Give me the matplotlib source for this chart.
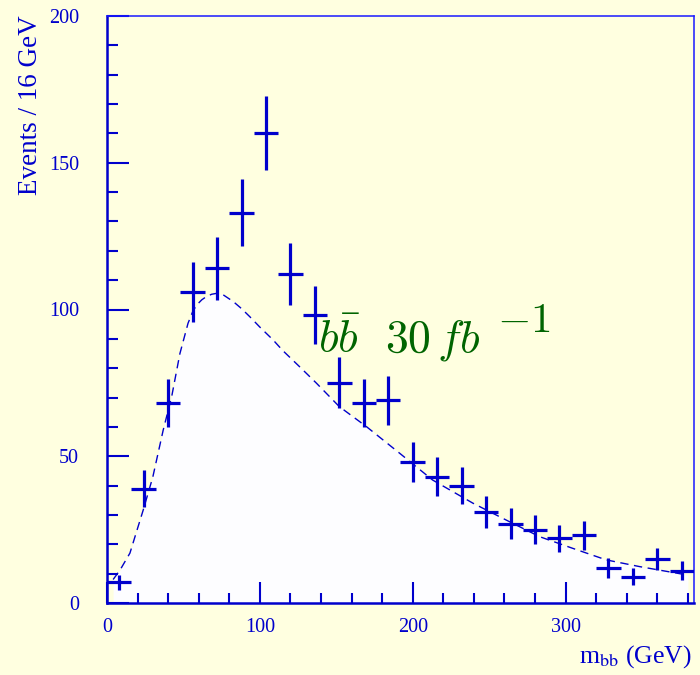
import numpy as np
import matplotlib
matplotlib.use("Agg")
import matplotlib.pyplot as plt
from matplotlib.ticker import MultipleLocator

plt.rcParams['font.family'] = ['Liberation Serif', 'DejaVu Serif']
plt.rcParams['mathtext.fontset'] = 'cm'

# data points (bin centres, 16 GeV bins)
bin_centres = [8, 24, 40, 56, 72, 88, 104, 120, 136, 152, 168, 184,
               200, 216, 232, 248, 264, 280, 296, 312, 328, 344, 360, 376]
events = [7, 39, 68, 106, 114, 133, 160, 112, 98, 75, 68, 69,
          48, 43, 40, 31, 27, 25, 22, 23, 12, 9, 15, 11]
event_errors = [2.6, 6.2, 8.2, 10.3, 10.7, 11.5, 12.6, 10.6, 9.9, 8.7, 8.2, 8.3,
                6.9, 6.6, 6.3, 5.6, 5.2, 5.0, 4.7, 4.8, 3.5, 3.0, 3.9, 3.3]
half_bin = 8

# background expectation curve
curve_x = [4, 8.5, 15, 23.7, 30, 36.8, 42.3, 47.7, 53, 56, 58.6, 62, 65, 68.5, 71.7,
           76, 82.6, 88, 93.5, 100, 108.7, 115, 126, 137, 152, 169.7, 191.5, 213,
           239.4, 261, 283, 304.8, 326.5, 348.4, 380]
curve_y = [8, 11.2, 17, 31.7, 43, 59, 70.3, 85, 95.3, 99.2, 101.5, 103.3, 104.4, 105.2, 105.5,
           105, 102.7, 100.3, 97.5, 94, 89.6, 86, 80.5, 74.9, 66.9, 60.1, 51, 41.9,
           34, 28.3, 22.6, 18.6, 14.7, 12.4, 9.5]

bg = '#ffffe0'
blue = '#0000cc'
green = '#006400'

W, H = 700, 675
fig = plt.figure(figsize=(7, 6.75), dpi=100, facecolor=bg)
ax = fig.add_axes([107/W, 72/H, 587/W, 587/H])
ax.set_facecolor(bg)

ax.fill_between(curve_x, curve_y, 0, color='#fdfdff', zorder=1, lw=0)
ax.plot(curve_x, curve_y, color=blue, lw=1.0, ls=(0, (6, 4)), zorder=2)

ax.errorbar(bin_centres, events, yerr=event_errors, xerr=half_bin, fmt='none',
            ecolor=blue, elinewidth=2.3, capsize=0, zorder=3)

# annotation, laid out piece by piece (pixel positions)
def ptext(x, y, s, size):
    fig.text(x/W, 1 - y/H, s, color=green, fontsize=size, ha='left', va='baseline',
             zorder=5)

ptext(318, 352, r'$b\bar{b}$', 33)
ptext(385, 352, r'$30$', 33)
ptext(437, 352, r'$fb$', 33)
ptext(497, 332, r'$-1$', 31)

ax.set_xlim(0, 384)
ax.set_ylim(0, 200)

ax.xaxis.set_major_locator(MultipleLocator(100))
ax.xaxis.set_minor_locator(MultipleLocator(20))
ax.yaxis.set_major_locator(MultipleLocator(50))
ax.yaxis.set_minor_locator(MultipleLocator(10))

ax.tick_params(axis='both', which='both', direction='in', color=blue,
               labelcolor=blue, labelsize=14.5, width=1.5,
               top=False, right=False)
ax.tick_params(axis='y', which='major', length=16, pad=20)
ax.tick_params(axis='y', which='minor', length=8)
ax.tick_params(axis='x', which='major', length=15, pad=11)
ax.tick_params(axis='x', which='minor', length=7.5)

for s in ['left', 'bottom']:
    ax.spines[s].set_color(blue)
    ax.spines[s].set_linewidth(1.8)
for s in ['top', 'right']:
    ax.spines[s].set_color('#1a1aff')
    ax.spines[s].set_linewidth(1.1)

fig.text(18/W, 1 - 15/H, 'Events / 16 GeV', rotation=90, ha='left', va='top',
         color=blue, fontsize=19.5)
fig.text(692/W, 1 - 663/H, r'm$_{\mathrm{bb}}$ (GeV)', ha='right', va='baseline',
         color=blue, fontsize=18.5, math_fontfamily='stix')

fig.savefig('out.png', dpi=100, facecolor=bg)
